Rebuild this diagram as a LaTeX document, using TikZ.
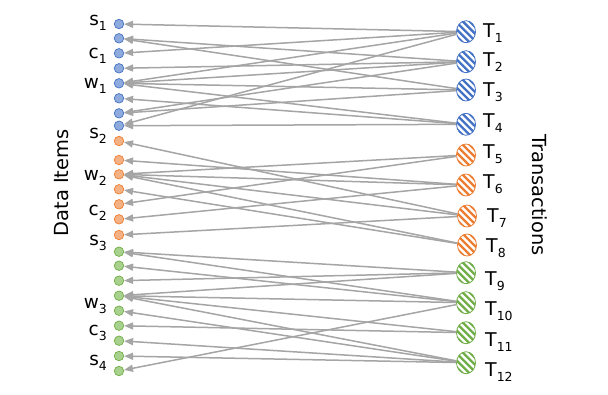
\documentclass[tikz,border=0pt]{standalone}
\usepackage{fontspec}
\setmainfont{DejaVu Sans}
\usetikzlibrary{arrows.meta,shapes.geometric}
\definecolor{bluefill}{HTML}{8FAADC}
\definecolor{blueline}{HTML}{4472C4}
\definecolor{orfill}{HTML}{F4B183}
\definecolor{orline}{HTML}{ED7D31}
\definecolor{grfill}{HTML}{A9D18E}
\definecolor{grline}{HTML}{70AD47}
\definecolor{edgegray}{HTML}{A5A5A5}
\tikzset{
  itemdot/.style={circle, inner sep=0pt, minimum size=9.5bp, line width=0.7bp},
  dotb/.style={itemdot, fill=bluefill, draw=blueline},
  doto/.style={itemdot, fill=orfill, draw=orline},
  dotg/.style={itemdot, fill=grfill, draw=grline},
  stripes/.style={path picture={
    \foreach \i in {-28,-21,...,28} {
      \draw[line width=2.4bp, #1] ([xshift=\i bp]path picture bounding box.center) ++(-15bp,15bp) -- ++(30bp,-30bp);
    }}},
  txn/.style={ellipse, inner sep=0pt, minimum width=19bp, minimum height=22bp, fill=white, line width=0.8bp, draw=#1, stripes=#1},
  edge/.style={draw=edgegray, line width=1.5bp, -{Triangle[length=9bp,width=7bp]}},
  lbl/.style={anchor=base east, inner sep=0pt, font=\fontsize{18.5}{20}\selectfont},
  tlbl/.style={anchor=base west, inner sep=0pt, font=\fontsize{19}{20}\selectfont},
  axislbl/.style={inner sep=0pt, font=\fontsize{19.5}{20}\selectfont}
}
\newcommand{\sbs}[1]{\raisebox{-5.5bp}{\fontsize{12.5}{14}\selectfont #1}}
\begin{document}
\begin{tikzpicture}[x=1bp,y=-1bp]
\useasboundingbox (0,0) rectangle (608,394);
% data items
\node[dotb] (B1) at (119,24) {};
\node[dotb] (B2) at (119,38.3) {};
\node[dotb] (B3) at (119,53.3) {};
\node[dotb] (B4) at (119,68.3) {};
\node[dotb] (B5) at (119,83.3) {};
\node[dotb] (B6) at (119,98.3) {};
\node[dotb] (B7) at (119,113.3) {};
\node[dotb] (B8) at (119,125.7) {};
\node[doto] (O1) at (119,141) {};
\node[doto] (O2) at (119,160) {};
\node[doto] (O3) at (119,174.3) {};
\node[doto] (O4) at (119,189.3) {};
\node[doto] (O5) at (119,204.3) {};
\node[doto] (O6) at (119,219.3) {};
\node[doto] (O7) at (119,235) {};
\node[dotg] (G1) at (119,251.7) {};
\node[dotg] (G2) at (119,265.7) {};
\node[dotg] (G3) at (119,280.7) {};
\node[dotg] (G4) at (119,295.7) {};
\node[dotg] (G5) at (119,310.7) {};
\node[dotg] (G6) at (119,325.7) {};
\node[dotg] (G7) at (119,340.7) {};
\node[dotg] (G8) at (119,356) {};
\node[dotg] (G9) at (119,371) {};
% item labels
\node[lbl] (ls1) at (107,25) {s\sbs{1}};
\node[lbl] (lc1) at (107,58) {c\sbs{1}};
\node[lbl] (lw1) at (107,88) {w\sbs{1}};
\node[lbl] (ls2) at (107,138) {s\sbs{2}};
\node[lbl] (lw2) at (107,180) {w\sbs{2}};
\node[lbl] (lc2) at (107,215) {c\sbs{2}};
\node[lbl] (ls3) at (107,245) {s\sbs{3}};
\node[lbl] (lw3) at (107,308) {w\sbs{3}};
\node[lbl] (lc3) at (107,335) {c\sbs{3}};
\node[lbl] (ls4) at (107,365) {s\sbs{4}};
% transactions
\node[txn=blueline] (T1) at (466,31.7) {};
\node[txn=blueline] (T2) at (466,61.7) {};
\node[txn=blueline] (T3) at (466,90) {};
\node[txn=blueline] (T4) at (466,124.3) {};
\node[txn=orline] (T5) at (466,155) {};
\node[txn=orline] (T6) at (466,185) {};
\node[txn=orline] (T7) at (467,216) {};
\node[txn=orline] (T8) at (467,245) {};
\node[txn=grline] (T9) at (466,272.7) {};
\node[txn=grline] (T10) at (466,302.7) {};
\node[txn=grline] (T11) at (466,332.7) {};
\node[txn=grline] (T12) at (466,362.7) {};
\node[tlbl] (lT1) at (483,37) {T\sbs{1}};
\node[tlbl] (lT2) at (483,66) {T\sbs{2}};
\node[tlbl] (lT3) at (483,96) {T\sbs{3}};
\node[tlbl] (lT4) at (483,127) {T\sbs{4}};
\node[tlbl] (lT5) at (483,158) {T\sbs{5}};
\node[tlbl] (lT6) at (483,188) {T\sbs{6}};
\node[tlbl] (lT7) at (487,222) {T\sbs{7}};
\node[tlbl] (lT8) at (486,252) {T\sbs{8}};
\node[tlbl] (lT9) at (485,285) {T\sbs{9}};
\node[tlbl] (lT10) at (485,315) {T\sbs{10}};
\node[tlbl] (lT11) at (485,346) {T\sbs{11}};
\node[tlbl] (lT12) at (485,376) {T\sbs{12}};
% axis labels
\node[axislbl, rotate=90] (di) at (62,183) {Data Items};
\node[axislbl, rotate=-90] (tr) at (540,195) {Transactions};
% edges
\foreach \t/\d in {T1/B1,T1/B3,T1/B5,T1/B8,
                   T2/B2,T2/B4,T2/B5,T2/B7,
                   T3/B2,T3/B5,T3/B7,
                   T4/B5,T4/B6,T4/B8,
                   T5/O3,T5/O5,
                   T6/O2,T6/O3,T6/O6,
                   T7/O1,T7/O3,T7/O7,
                   T8/O3,T8/O4,
                   T9/G1,T9/G3,T9/G4,
                   T10/G1,T10/G2,T10/G4,T10/G9,
                   T11/G4,T11/G6,
                   T12/G4,T12/G5,T12/G7,T12/G8}
  \draw[edge] (\t) -- (\d);
\end{tikzpicture}
\end{document}
